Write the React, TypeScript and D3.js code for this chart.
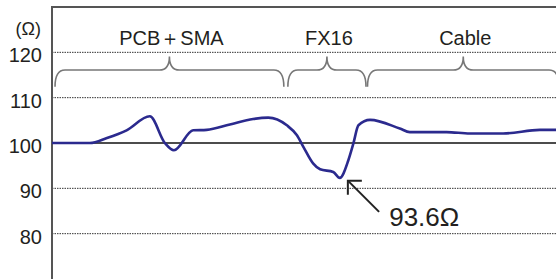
import React from "react";
import * as d3 from "d3";

// impedance profile, x = position (arbitrary units 0..100), y = ohms
const positions = [0, 7.5, 10.9, 14.8, 19.4, 22.4, 24.2, 28.0, 30.7, 35.3, 39.9, 42.9, 46.6, 48.6, 49.9, 51.8, 53.2, 55.8, 57.1, 58.8, 59.8, 60.8, 63.1, 69.0, 71.0, 78.3, 82.9, 89.5, 96.8, 100];
const ohms = [100, 100, 101.1, 102.8, 105.9, 100, 98.4, 102.8, 102.9, 104.1, 105.3, 105.6, 103.9, 101.7, 99.1, 95.5, 94.2, 93.6, 92.3, 96.2, 99.9, 103.9, 105.1, 103.2, 102.4, 102.4, 102.1, 102.1, 102.9, 102.9];

const yTicks = [80, 90, 100, 110, 120];
const sectionNames = ["PCB＋SMA", "FX16", "Cable"];
const sectionStart = [0.6, 46.8, 62.6];
const sectionEnd = [46.0, 62.3, 100.6];

const minLabel = "93.6Ω";

const W = 556;
const H = 279;
const FONT = "'Liberation Sans', Arial, Helvetica, sans-serif";
const TEXT = "#231f20";

export default function App() {
  const margin = { left: 52, top: 7, right: 0, bottom: 0 };
  const x = d3.scaleLinear().domain([0, 100]).range([margin.left, W - margin.right]);
  const y = d3.scaleLinear().domain([70, 130]).range([H - margin.bottom, margin.top]);

  const pts = positions.map((p, i) => ({ p, v: ohms[i] }));
  const line = d3
    .line<{ p: number; v: number }>()
    .x(d => x(d.p))
    .y(d => y(d.v))
    .curve(d3.curveMonotoneX);

  // brace levels in ohms
  const braceEnd = y(112.4);
  const braceTop = y(116.1);
  const braceTip = y(119.1);
  const bracePath = (x0: number, x1: number) => {
    const xm = (x0 + x1) / 2;
    const r = 10;
    return `M${x0},${braceEnd} Q${x0},${braceTop} ${x0 + r},${braceTop} L${xm - r},${braceTop} Q${xm},${braceTop} ${xm},${braceTip} Q${xm},${braceTop} ${xm + r},${braceTop} L${x1 - r},${braceTop} Q${x1},${braceTop} ${x1},${braceEnd}`;
  };

  // arrow annotation at the minimum
  const tipX = x(58.7), tipY = y(91.7);
  const tailX = x(64.9), tailY = y(84.8);

  return (
    <>
      <style>{`body{margin:0}`}</style>
      <svg width={W} height={H} style={{ display: "block", background: "#fff" }} fontFamily={FONT}>
        {/* grid */}
        {yTicks.map(t => (
          <line key={t} x1={x(0)} x2={W} y1={y(t)} y2={y(t)}
            stroke={t === 100 ? "#111" : "#333"}
            strokeWidth={t === 100 ? 1.5 : 1}
            strokeDasharray={t === 100 ? undefined : "1.5,1"} />
        ))}
        {yTicks.map(t => (
          <text key={"l" + t} x={42} y={y(t) + 10} textAnchor="end" fontSize={20} fill={TEXT}>{t}</text>
        ))}
        <text x={41} y={35} textAnchor="end" fontSize={18} fill={TEXT}>(Ω)</text>

        {/* frame */}
        <line x1={margin.left} x2={margin.left} y1={margin.top - 1} y2={H} stroke="#555" strokeWidth={2} />
        <line x1={margin.left} x2={W} y1={margin.top} y2={margin.top} stroke="#555" strokeWidth={2} />

        {/* sections */}
        {sectionNames.map((n, i) => (
          <g key={n}>
            <path d={bracePath(x(sectionStart[i]), x(sectionEnd[i]))} fill="none" stroke="#777" strokeWidth={1.6} />
            <text x={(x(sectionStart[i]) + x(sectionEnd[i])) / 2 + 2} y={45} textAnchor="middle" fontSize={20} fill={TEXT}>{n}</text>
          </g>
        ))}

        {/* impedance */}
        <path d={line(pts) ?? ""} fill="none" stroke="#2b2a8e" strokeWidth={2.6} strokeLinejoin="round" />

        {/* annotation */}
        <g stroke="#222" strokeWidth={2} fill="none">
          <line x1={tailX} y1={tailY} x2={tipX} y2={tipY} />
          <polyline points={`${tipX + 14},${tipY} ${tipX},${tipY} ${tipX},${tipY + 14}`} />
        </g>
        <text x={x(66.9)} y={y(81.8)} fontSize={26} fill={TEXT}>{minLabel}</text>
      </svg>
    </>
  );
}
